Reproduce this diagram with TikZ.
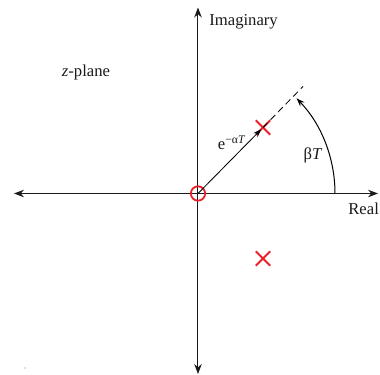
\documentclass[tikz,border=0pt]{standalone}
\usepackage{fontspec}
\setmainfont{Liberation Serif}
\usepackage{xcolor}
\usetikzlibrary{positioning,arrows.meta,shapes.misc}
\definecolor{polered}{HTML}{E8202A}
\definecolor{axisgray}{HTML}{1A1A1A}

\begin{document}
\begin{tikzpicture}[x=0.6pt, y=0.6pt,
  axis/.style={draw=axisgray, line width=0.6pt, {Stealth[length=6pt,width=4.5pt]}-{Stealth[length=6pt,width=4.5pt]}},
  pole/.style={cross out, draw=polered, line width=1.1pt, minimum size=7.5pt, inner sep=0pt},
  zero/.style={circle, draw=polered, line width=1.1pt, minimum size=8.6pt, inner sep=0pt},
  lbl/.style={font=\fontsize{10}{12}\selectfont, text=axisgray, inner sep=0pt}]
\useasboundingbox (-198,-181.5) rectangle (182,193.5);
% axes
\coordinate (O) at (0,0);
\coordinate (west) at (-184,0);
\coordinate (east) at (180,0);
\coordinate (north) at (0,186);
\coordinate (south) at (0,-180.5);
\draw[axis] (west) -- (east);
\draw[axis] (south) -- (north);
% poles and zero
\node[zero] (z0) at (O) {};
\node[pole] (p1) at (65,66) {};
\node[pole] (p2) at (65,-65) {};
\coordinate (ray) at (105,107);
\draw[line width=0.5pt, -{Stealth[length=5pt,width=3.5pt]}, shorten >=1.5pt] (O) -- (p1.center);
\draw[line width=0.5pt, dashed, dash pattern=on 4pt off 2.5pt] (p1.center) -- (ray);
% angle
\coordinate (arcstart) at (137,0);
\draw[line width=0.6pt, -{Stealth[length=5pt,width=3.5pt]}] (arcstart) arc[start angle=0, end angle=44, radius=137];
% labels
\node[lbl, anchor=west] (imag) at (11,171.5) {Imaginary};
\node[lbl] (zplane) at (-112,121.5) {\textit{z}-plane};
\node[lbl, anchor=west] (real) at (150,-15.5) {Real};
\node[lbl] (mag) at (34,51) {e\textsuperscript{−α\textit{T}}};
\node[lbl] (ang) at (115,38.5) {β\textit{T}};
\fill[axisgray!60] (-173,-174.5) circle[radius=0.6];
\end{tikzpicture}
\end{document}
